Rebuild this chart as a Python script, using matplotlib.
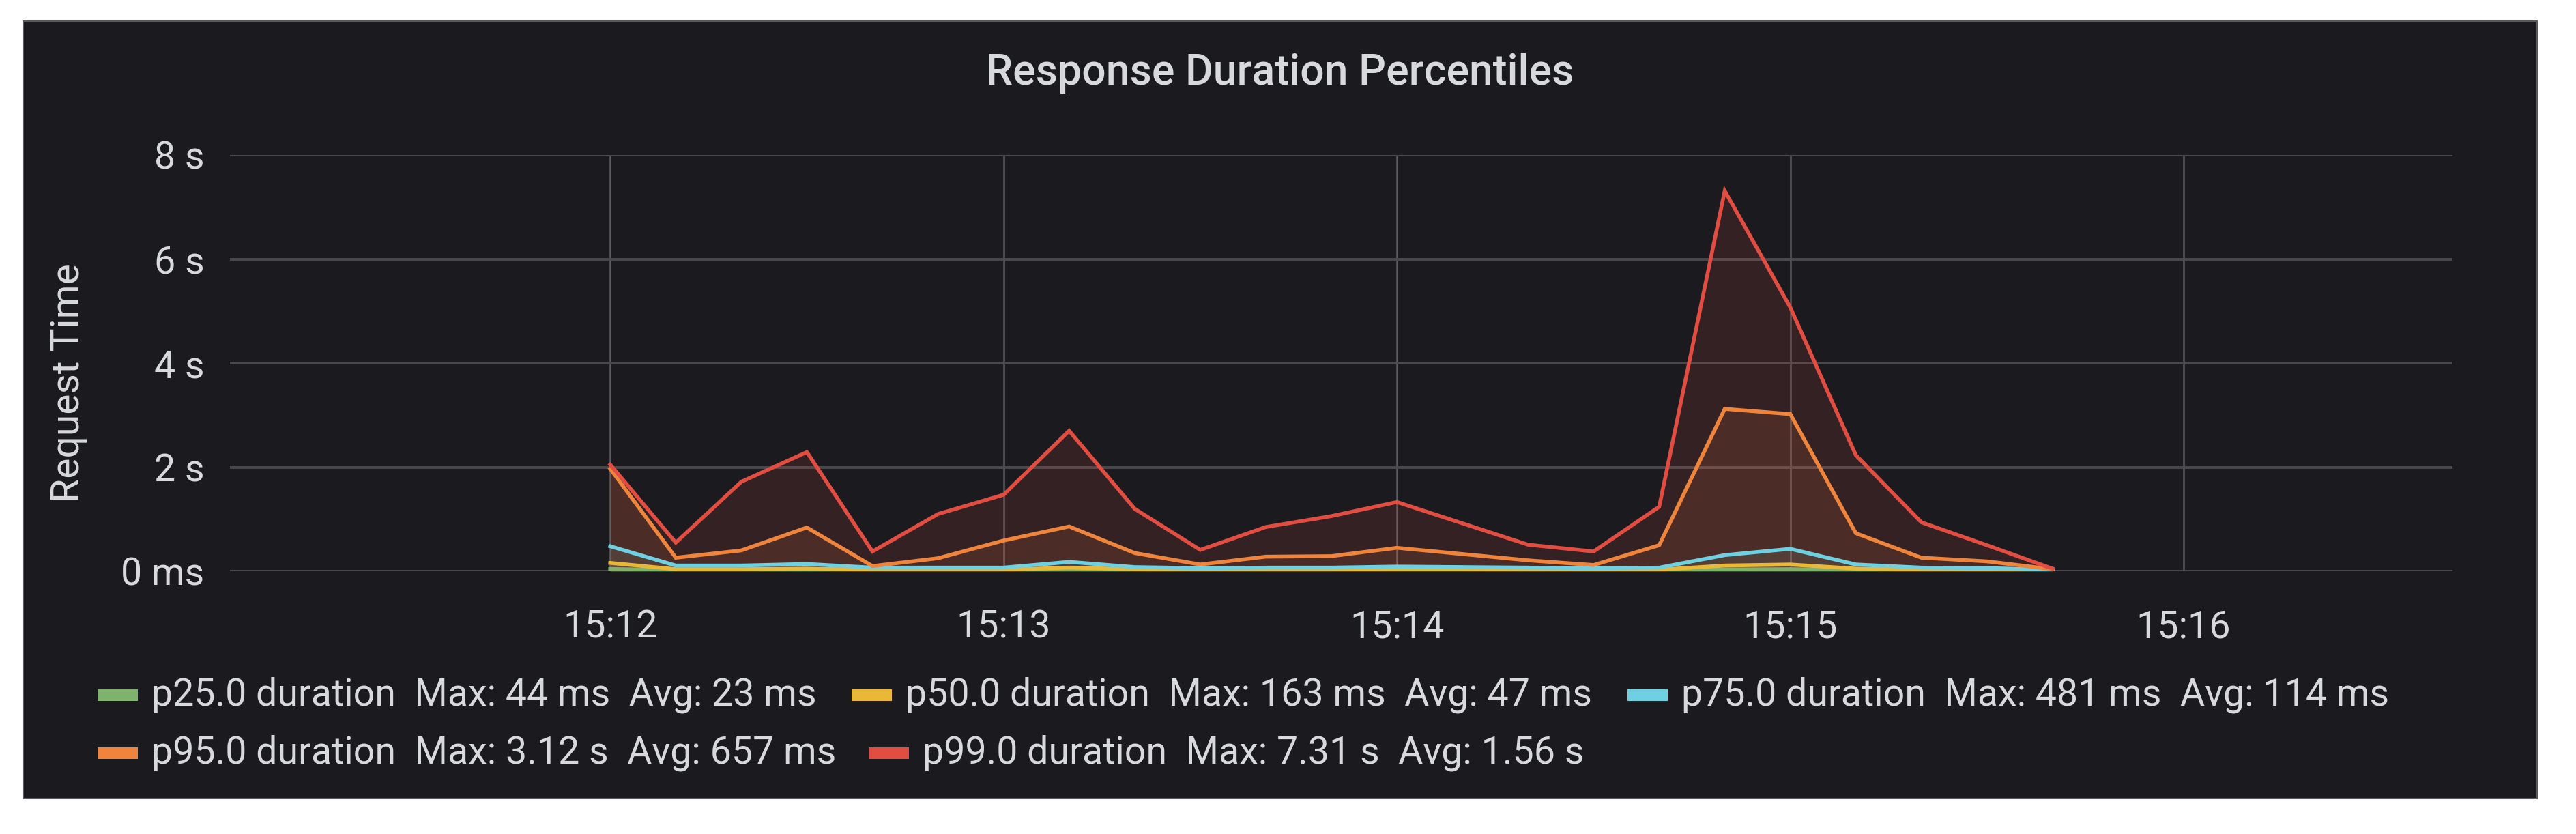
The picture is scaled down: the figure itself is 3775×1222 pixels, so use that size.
import pandas as pd
import matplotlib
matplotlib.use("Agg")
import matplotlib.pyplot as plt
import matplotlib.dates as mdates
from matplotlib.patches import Rectangle
from matplotlib.ticker import FuncFormatter

# samples every 10 s, 15:12:00 .. 15:15:40 (values in seconds)
times = pd.date_range("2021-01-01 15:12:00", "2021-01-01 15:15:40", freq="10s")

p25 = [0.044, 0.022, 0.022, 0.025, 0.018, 0.018, 0.018, 0.030, 0.020, 0.018, 0.020, 0.020,
       0.022, 0.022, 0.020, 0.018, 0.020, 0.035, 0.040, 0.025, 0.020, 0.018, 0.012]
p50 = [0.16, 0.04, 0.04, 0.05, 0.03, 0.03, 0.03, 0.07, 0.04, 0.03, 0.03, 0.03,
       0.04, 0.04, 0.03, 0.03, 0.03, 0.11, 0.13, 0.05, 0.03, 0.03, 0.02]
p75 = [0.48, 0.11, 0.11, 0.14, 0.07, 0.07, 0.07, 0.18, 0.08, 0.06, 0.07, 0.07,
       0.09, 0.08, 0.07, 0.06, 0.07, 0.31, 0.43, 0.13, 0.07, 0.06, 0.03]
p95 = [1.97, 0.26, 0.40, 0.84, 0.10, 0.25, 0.59, 0.86, 0.35, 0.13, 0.28, 0.29,
       0.45, 0.33, 0.21, 0.12, 0.50, 3.12, 3.02, 0.73, 0.26, 0.19, 0.04]
p99 = [2.05, 0.55, 1.72, 2.29, 0.38, 1.10, 1.47, 2.70, 1.20, 0.41, 0.85, 1.06,
       1.33, 0.92, 0.51, 0.38, 1.24, 7.31, 5.07, 2.23, 0.94, 0.50, 0.05]

series_names = ["p25.0 duration", "p50.0 duration", "p75.0 duration", "p95.0 duration", "p99.0 duration"]
series_stats = ["Max: 44 ms  Avg: 23 ms", "Max: 163 ms  Avg: 47 ms", "Max: 481 ms  Avg: 114 ms",
                "Max: 3.12 s  Avg: 657 ms", "Max: 7.31 s  Avg: 1.56 s"]
colors = ["#7EB26D", "#EAB839", "#6ED0E0", "#EF843C", "#E24D42"]
y_ticks = [0, 2, 4, 6, 8]

BG = "#1b1b1f"
TXT = "#d8d9da"
W, H = 3775, 1222

plt.rcParams["font.family"] = ["Roboto", "DejaVu Sans"]

fig = plt.figure(figsize=(W / 100, H / 100), dpi=100, facecolor="white")

# dark panel behind everything
fig.patches.append(Rectangle((34 / W, 1 - 1170 / H), (3718 - 34) / W, (1170 - 31) / H,
                             transform=fig.transFigure, facecolor=BG, edgecolor="#5a5a5e",
                             linewidth=1.5, zorder=-5))

ax = fig.add_axes([337 / W, 1 - 837 / H, (3594 - 337) / W, (837 - 227) / H])
ax.set_facecolor(BG)
ax.patch.set_alpha(0)

for vals, col in zip([p25, p50, p75, p95, p99], colors):
    ax.fill_between(times, 0, vals, color=col, alpha=0.13, linewidth=0, zorder=2)
    ax.plot(times, vals, color=col, linewidth=4, zorder=3, solid_joinstyle="miter")

ax.set_ylim(0, 8)
ax.set_xlim(pd.Timestamp("2021-01-01 15:11:02"), pd.Timestamp("2021-01-01 15:16:41"))
ax.set_yticks(y_ticks)
ax.yaxis.set_major_formatter(FuncFormatter(lambda v, p: "0 ms" if v == 0 else f"{v:g} s"))
ax.xaxis.set_major_locator(mdates.MinuteLocator())
ax.xaxis.set_major_formatter(mdates.DateFormatter("%H:%M"))

ax.grid(axis="y", color="#4a4a4e", linewidth=2.8, zorder=1)
ax.grid(axis="x", color="#5c5c60", linewidth=1.8, zorder=1)
ax.set_axisbelow(True)
for s in ax.spines.values():
    s.set_visible(False)
ax.tick_params(length=0, labelsize=40, colors=TXT)
ax.tick_params(axis="y", pad=27)
ax.tick_params(axis="x", pad=40)

fig.text(101 / W, 1 - 561 / H, "Request Time", rotation=90, ha="center", va="center",
         fontsize=41, color=TXT)
fig.text(1876 / W, 1 - 107 / H, "Response Duration Percentiles", ha="center", va="center",
         fontsize=45, fontweight="medium", color=TXT)

# legend (grafana style, two rows)
legend_pos = [(143, 1018), (1248, 1018), (2385, 1018), (143, 1103), (1273, 1103)]
for (lx, ly), name, stat, col in zip(legend_pos, series_names, series_stats, colors):
    fig.patches.append(Rectangle((lx / W, 1 - (ly + 9) / H), 59 / W, 17 / H,
                                 transform=fig.transFigure, facecolor=col, edgecolor="none"))
    fig.text((lx + 79) / W, 1 - ly / H, name + "  " + stat, ha="left", va="center",
             fontsize=40, color=TXT)

fig.savefig("out.png", dpi=100, facecolor="white")
